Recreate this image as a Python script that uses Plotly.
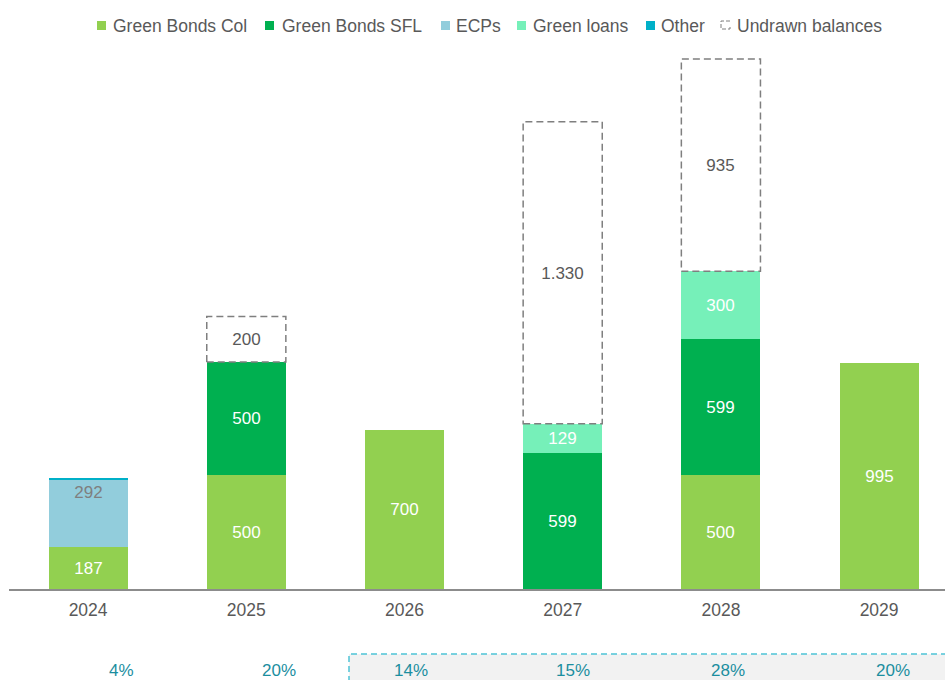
import plotly.graph_objects as go

# Maturity profile (EUR m) by year
years = ["2024", "2025", "2026", "2027", "2028", "2029"]
green_bonds_col = [187, 500, 700, 0, 500, 995]
green_bonds_sfl = [0, 500, 0, 599, 599, 0]
ecps = [292, 0, 0, 0, 0, 0]
green_loans = [0, 0, 0, 129, 300, 0]
other = [12, 0, 0, 0, 0, 0]
undrawn = [0, 200, 0, 1330, 935, 0]
share_pct = [4, 20, 14, 15, 28, 20]

FONT = "Arial, Liberation Sans, sans-serif"
C_COL = "#92d050"
C_SFL = "#00b050"
C_ECP = "#92cddc"
C_LOAN = "#76f0b9"
C_OTHER = "#00b0c8"
C_DASH = "#7f7f7f"
C_TEXT = "#595959"
C_PCT = "#1b8e9f"

W, H = 945, 680
ML, MR, MT, MB = 9, 0, 44, 91
PW, PH = W - ML - MR, H - MT - MB


def fmt(v):
    # thousands separator as dot
    return f"{v:,}".replace(",", ".") if v else ""


xs = list(range(len(years)))
fig = go.Figure()

segments = [
    (green_bonds_col, C_COL, "white", "middle"),
    (green_bonds_sfl, C_SFL, "white", "middle"),
    (ecps, C_ECP, "#7f7f7f", "end"),
    (other, C_OTHER, "white", "middle"),
    (green_loans, C_LOAN, "white", "middle"),
]
for vals, color, tcol, anchor in segments:
    fig.add_trace(go.Bar(
        x=xs, y=vals, width=0.5, marker=dict(color=color, line=dict(width=0)),
        text=[fmt(v) if v > 50 else "" for v in vals],
        textposition="inside", insidetextanchor=anchor, textangle=0,
        textfont=dict(family=FONT, size=17, color=tcol),
        showlegend=False, hoverinfo="skip",
    ))

# Undrawn balances: transparent bar carrying the label, dashed outline as shape
fig.add_trace(go.Bar(
    x=xs, y=undrawn, width=0.5, marker=dict(color="rgba(0,0,0,0)", line=dict(width=0)),
    text=[fmt(v) for v in undrawn], textposition="inside", insidetextanchor="middle",
    textangle=0, textfont=dict(family=FONT, size=17, color=C_TEXT),
    showlegend=False, hoverinfo="skip",
))

shapes = []
for i, u in enumerate(undrawn):
    if not u:
        continue
    base = green_bonds_col[i] + green_bonds_sfl[i] + ecps[i] + other[i] + green_loans[i]
    shapes.append(dict(type="rect", xref="x", yref="y", x0=i - 0.25, x1=i + 0.25,
                       y0=base, y1=base + u, line=dict(color=C_DASH, width=1.5, dash="7px,4px"),
                       fillcolor="rgba(0,0,0,0)", layer="above"))


def px_x(p):
    return (p - ML) / PW


def px_y(p):
    return (H - MB - p) / PH


# Shaded dashed panel behind the later-year percentages
shapes.append(dict(type="rect", xref="paper", yref="paper", x0=px_x(349), x1=px_x(960),
                   y0=px_y(700), y1=px_y(654), fillcolor="#f2f2f2",
                   line=dict(color="#4fc3d6", width=1.5, dash="6px,4px"), layer="below"))

annotations = []
pct_px = [121, 279, 411, 573, 728, 893]
for p, v in zip(pct_px, share_pct):
    annotations.append(dict(xref="paper", yref="paper", x=px_x(p), y=px_y(670),
                            text=f"{v}%", showarrow=False, xanchor="center", yanchor="middle",
                            font=dict(family=FONT, size=17, color=C_PCT)))

# Legend row
legend_items = [
    ("Green Bonds Col", C_COL, 97, 111),
    ("Green Bonds SFL", C_SFL, 265, 280),
    ("ECPs", C_ECP, 441, 454),
    ("Green loans", C_LOAN, 517, 531),
    ("Other", C_OTHER, 646, 659),
    ("Undrawn balances", None, 721, 735),
]
ly = 25
for label, color, sx, tx in legend_items:
    if color:
        shapes.append(dict(type="rect", xref="paper", yref="paper",
                           x0=px_x(sx), x1=px_x(sx + 9), y0=px_y(ly + 5), y1=px_y(ly - 4),
                           fillcolor=color, line=dict(width=0)))
    else:
        shapes.append(dict(type="path", xref="paper", yref="paper",
                           path=(f"M {px_x(sx + 9)},{px_y(ly - 4)} L {px_x(sx)},{px_y(ly - 4)} "
                                 f"L {px_x(sx)},{px_y(ly + 4)} L {px_x(sx + 9)},{px_y(ly + 4)} "
                                 f"L {px_x(sx + 9)},{px_y(ly + 2)}"),
                           line=dict(color=C_DASH, width=1, dash="4px,2px")))
    annotations.append(dict(xref="paper", yref="paper", x=px_x(tx), y=px_y(ly + 1),
                            text=label, showarrow=False, xanchor="left", yanchor="middle",
                            font=dict(family=FONT, size=17.5, color=C_TEXT)))

fig.update_layout(
    width=W, height=H, barmode="stack", bargap=0,
    margin=dict(l=ML, r=MR, t=MT, b=MB, autoexpand=False),
    paper_bgcolor="white", plot_bgcolor="white",
    shapes=shapes, annotations=annotations,
    xaxis=dict(range=[-0.5, (W - ML) / 158.2 - 0.5], tickvals=xs, ticktext=years,
               showline=True, linecolor="#8c8c8c", linewidth=2, showgrid=False,
               zeroline=False, ticks="", ticklabelstandoff=4,
               tickfont=dict(family=FONT, size=17.5, color=C_TEXT)),
    yaxis=dict(range=[0, 2400], visible=False, showgrid=False, zeroline=False),
    uniformtext=dict(mode=False),
)

fig.write_html("out.html")
